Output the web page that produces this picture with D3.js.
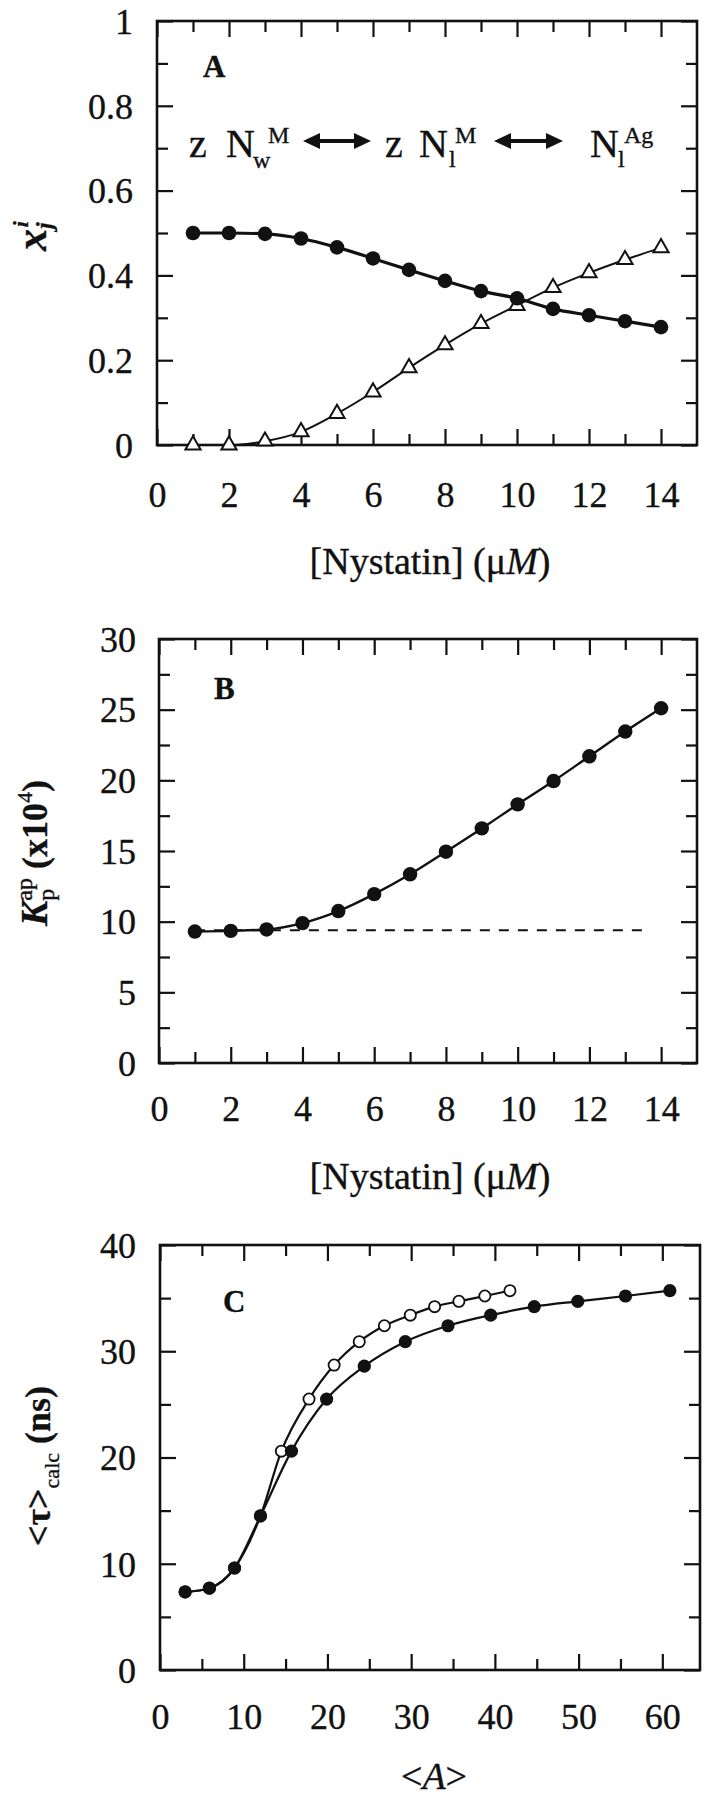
<!DOCTYPE html>
<html><head><meta charset="utf-8">
<script src="https://cdn.jsdelivr.net/npm/d3@7"></script>
<style>
body{margin:0;background:#fff;}
svg text{font-family:"Liberation Serif","Tinos","Times New Roman",Times,"DejaVu Serif",serif;fill:#111;stroke:#111;stroke-width:0.35px;}
</style></head><body>
<svg id="chart" width="711" height="1800"></svg>
<script>
// ---------- DATA ----------
const nystatin = [1,2,3,4,5,6,7,8,9,10,11,12,13,14];
// Panel A: mole fractions
const aFilled = [0.500,0.500,0.498,0.487,0.466,0.440,0.413,0.387,0.363,0.346,0.321,0.306,0.292,0.278];
const aOpen   = [0.000,0.000,0.009,0.031,0.074,0.125,0.182,0.236,0.286,0.329,0.371,0.406,0.437,0.465];
// Panel B: apparent partition coefficient (x10^4)
const bKp = [9.30,9.35,9.45,9.90,10.75,11.95,13.35,14.95,16.60,18.30,19.95,21.70,23.45,25.10];
const bDashX = [1,13.7];
const bDashY = [9.4,9.4];
// Panel C: <tau>calc vs <A>
const cFilledA   = [3.0,5.9,8.9,12.0,15.7,19.9,24.4,29.3,34.4,39.5,44.7,49.9,55.6,60.9];
const cFilledTau = [7.35,7.7,9.6,14.5,20.6,25.5,28.6,30.9,32.4,33.4,34.2,34.7,35.2,35.7];
const cOpenA     = [3.0,5.9,8.9,12.0,14.5,17.8,20.8,23.8,26.8,29.9,32.8,35.7,38.8,41.8];
const cOpenTau   = [7.35,7.7,9.6,14.5,20.6,25.5,28.7,30.9,32.4,33.4,34.2,34.7,35.2,35.7];
// Tick values / labels
const aXMajor = [0,2,4,6,8,10,12,14], aXMinor = [1,3,5,7,9,11,13];
const aYMajor = [0,0.2,0.4,0.6,0.8,1], aYMinor = [0.1,0.3,0.5,0.7,0.9];
const bYMajor = [0,5,10,15,20,25,30], bYMinor = [2.5,7.5,12.5,17.5,22.5,27.5];
const cXMajor = [0,10,20,30,40,50,60], cXMinor = [5,15,25,35,45,55];
const cYMajor = [0,10,20,30,40], cYMinor = [5,15,25,35];

const svg = d3.select("#chart");
const FS = 36;

function panel(o){
  const x = d3.scaleLinear().domain(o.xDomain).range([o.left,o.right]);
  const y = d3.scaleLinear().domain(o.yDomain).range([o.bottom,o.top]);
  const g = svg.append("g");
  const sides = [
    [d3.axisBottom, `translate(0,${o.bottom})`, x, o.xMinor, o.xMajor],
    [d3.axisTop, `translate(0,${o.top})`, x, o.xMinor, o.xMajor],
    [d3.axisLeft, `translate(${o.left},0)`, y, o.yMinor, o.yMajor],
    [d3.axisRight, `translate(${o.right},0)`, y, o.yMinor, o.yMajor]
  ];
  sides.forEach(([fn,tr,sc,mn,mj])=>{
    [[mn,-11],[mj,-16]].forEach(([vals,len])=>{
      const a = g.append("g").attr("transform",tr)
        .call(fn(sc).tickValues(vals).tickSize(len).tickFormat(""));
      a.select(".domain").remove();
      a.selectAll("line").attr("stroke","#111").attr("stroke-width",2.2);
    });
  });
  // labels
  const xl = g.append("g").attr("transform",`translate(0,${o.bottom})`)
    .call(d3.axisBottom(x).tickValues(o.xMajor).tickSize(0).tickFormat(o.xFmt||(d=>String(d))));
  xl.select(".domain").remove();
  xl.attr("font-size",null).attr("font-family",null);
  xl.selectAll("text").attr("y",o.xLab).attr("dy",0).attr("font-size",FS).attr("fill","#111");
  const yl = g.append("g").attr("transform",`translate(${o.left},0)`)
    .call(d3.axisLeft(y).tickValues(o.yMajor).tickSize(0).tickFormat(o.yFmt||(d=>String(d))));
  yl.select(".domain").remove();
  yl.attr("font-size",null).attr("font-family",null);
  yl.selectAll("text").attr("x",-o.yLab).attr("dy","0.34em").attr("font-size",FS).attr("fill","#111");
  g.append("rect").attr("x",o.left).attr("y",o.top).attr("width",o.right-o.left).attr("height",o.bottom-o.top)
    .attr("fill","none").attr("stroke","#111").attr("stroke-width",2.6);
  return {x,y,g};
}

// ---------- PANEL A ----------
const A = panel({left:157,right:697,top:21,bottom:445,xDomain:[0,15],yDomain:[0,1],
  xMajor:aXMajor,xMinor:aXMinor,yMajor:aYMajor,yMinor:aYMinor,xLab:62,yLab:24});
const lineA = d3.line().x((d,i)=>A.x(nystatin[i])).y(d=>A.y(d)).curve(d3.curveMonotoneX);
A.g.append("path").attr("d",lineA(aOpen)).attr("fill","none").attr("stroke","#111").attr("stroke-width",2);
A.g.append("path").attr("d",lineA(aFilled)).attr("fill","none").attr("stroke","#111").attr("stroke-width",3.2);
A.g.selectAll(".tri").data(aOpen).join("path")
  .attr("transform",(d,i)=>`translate(${A.x(nystatin[i])},${A.y(d)})`)
  .attr("d",d3.symbol(d3.symbolTriangle,100)()).attr("fill","#fff").attr("stroke","#111").attr("stroke-width",2);
A.g.selectAll(".dot").data(aFilled).join("circle")
  .attr("cx",(d,i)=>A.x(nystatin[i])).attr("cy",d=>A.y(d)).attr("r",7.3).attr("fill","#111");

// Panel letter + titles A
svg.append("text").attr("x",203).attr("y",77).attr("font-size",31).attr("font-weight","bold").text("A");
function xTitle(cx,by){
  const t = svg.append("text").attr("x",cx).attr("y",by).attr("text-anchor","middle").attr("font-size",38);
  t.append("tspan").text("[Nystatin] (\u03BC");
  t.append("tspan").attr("font-style","italic").text("M");
  t.append("tspan").text(")");
}
xTitle(430,574);
// y title A
{
  const t = svg.append("text").attr("transform","translate(46,236) rotate(-90)").attr("text-anchor","middle")
    .attr("font-style","italic").attr("font-weight","bold");
  t.append("tspan").attr("font-size",44).text("x");
  t.append("tspan").attr("font-size",24).attr("dy",6).text("j");
  t.append("tspan").attr("font-size",22).attr("dx",-5).attr("dy",-24).text("i");
}
// annotation
function ann(x,y,s,fs){ svg.append("text").attr("x",x).attr("y",y).attr("font-size",fs).text(s); }
ann(189,157,"z",40); ann(226,157,"N",40); ann(253,168,"w",24); ann(268,143,"M",24);
ann(385,157,"z",40); ann(419,157,"N",40); ann(449,167,"l",24); ann(455,143,"M",24);
ann(590,157,"N",40); ann(618,167,"l",24); ann(624,143,"Ag",24);
function dblArrow(x1,x2,y){
  const h=17,w=8,s=2;
  const p = `M${x1},${y} L${x1+h},${y-w} L${x1+h},${y-s} L${x2-h},${y-s} L${x2-h},${y-w} L${x2},${y} L${x2-h},${y+w} L${x2-h},${y+s} L${x1+h},${y+s} L${x1+h},${y+w} Z`;
  svg.append("path").attr("d",p).attr("fill","#111");
}
dblArrow(303,371,141); dblArrow(494,563,141);

// ---------- PANEL B ----------
const B = panel({left:159,right:697,top:639,bottom:1063,xDomain:[0,15],yDomain:[0,30],
  xMajor:aXMajor,xMinor:aXMinor,yMajor:bYMajor,yMinor:bYMinor,xLab:58,yLab:23});
B.g.append("path").attr("d",d3.line().x((d,i)=>B.x(bDashX[i])).y(d=>B.y(d))(bDashY))
  .attr("fill","none").attr("stroke","#111").attr("stroke-width",2).attr("stroke-dasharray","10,9");
const lineB = d3.line().x((d,i)=>B.x(nystatin[i])).y(d=>B.y(d)).curve(d3.curveMonotoneX);
B.g.append("path").attr("d",lineB(bKp)).attr("fill","none").attr("stroke","#111").attr("stroke-width",2.4);
B.g.selectAll(".dot").data(bKp).join("circle")
  .attr("cx",(d,i)=>B.x(nystatin[i])).attr("cy",d=>B.y(d)).attr("r",7.2).attr("fill","#111");
svg.append("text").attr("x",214).attr("y",699).attr("font-size",31).attr("font-weight","bold").text("B");
xTitle(430,1189);
{
  const t = svg.append("text").attr("transform","translate(47,853) rotate(-90)").attr("text-anchor","middle");
  t.append("tspan").attr("font-size",38).attr("font-style","italic").attr("font-weight","bold").text("K");
  t.append("tspan").attr("font-size",24).attr("dy",7).text("p");
  t.append("tspan").attr("font-size",24).attr("dx",-12).attr("dy",-22).text("ap");
  t.append("tspan").attr("font-size",36).attr("font-weight","bold").attr("dy",15).text(" (x10");
  t.append("tspan").attr("font-size",22).attr("dy",-15).text("4");
  t.append("tspan").attr("font-size",36).attr("font-weight","bold").attr("dy",15).text(")");
}

// ---------- PANEL C ----------
const C = panel({left:160,right:700,top:1245,bottom:1670,xDomain:[0,64.5],yDomain:[0,40],
  xMajor:cXMajor,xMinor:cXMinor,yMajor:cYMajor,yMinor:cYMinor,xLab:59,yLab:24});
const lineC = (xs,ys)=>d3.line().x((d,i)=>C.x(xs[i])).y(d=>C.y(d)).curve(d3.curveMonotoneX)(ys);
C.g.append("path").attr("d",lineC(cOpenA,cOpenTau)).attr("fill","none").attr("stroke","#111").attr("stroke-width",2.2);
C.g.append("path").attr("d",lineC(cFilledA,cFilledTau)).attr("fill","none").attr("stroke","#111").attr("stroke-width",2.2);
C.g.selectAll(".odot").data(cOpenTau).join("circle")
  .attr("cx",(d,i)=>C.x(cOpenA[i])).attr("cy",d=>C.y(d)).attr("r",5.6).attr("fill","#fff").attr("stroke","#111").attr("stroke-width",1.8);
C.g.selectAll(".fdot").data(cFilledTau).join("circle")
  .attr("cx",(d,i)=>C.x(cFilledA[i])).attr("cy",d=>C.y(d)).attr("r",6.6).attr("fill","#111");
svg.append("text").attr("x",223).attr("y",1312).attr("font-size",31).attr("font-weight","bold").text("C");
{
  const t = svg.append("text").attr("x",434).attr("y",1789).attr("text-anchor","middle").attr("font-size",38);
  t.append("tspan").text("<");
  t.append("tspan").attr("font-style","italic").text("A");
  t.append("tspan").text(">");
}
{
  const t = svg.append("text").attr("transform","translate(50,1466) rotate(-90)").attr("text-anchor","middle").attr("font-weight","bold");
  t.append("tspan").attr("font-size",36).text("<\u03C4>");
  t.append("tspan").attr("font-size",22).attr("font-weight","normal").attr("dy",9).text("calc");
  t.append("tspan").attr("font-size",36).attr("dy",-9).text(" (ns)");
}
</script>
</body></html>
